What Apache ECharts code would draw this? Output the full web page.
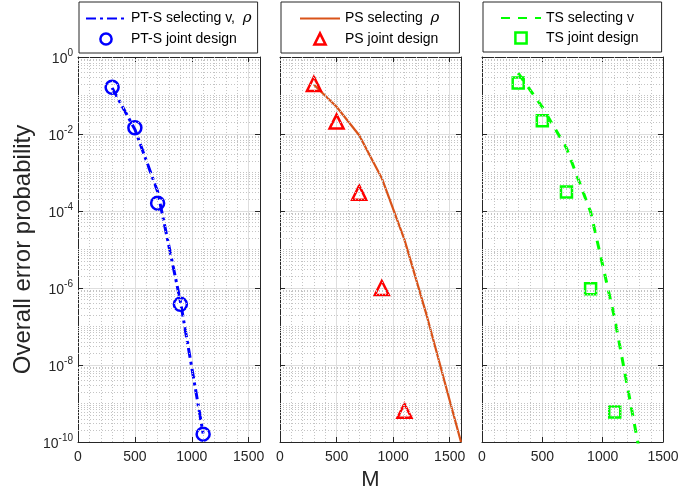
<!DOCTYPE html>
<html>
<head>
<meta charset="utf-8">
<script src="https://cdn.jsdelivr.net/npm/echarts@6/dist/echarts.min.js"></script>
<style>
    html, body { margin: 0; padding: 0; background: #fff; }
    #main { width: 678px; height: 491px; }
</style>
</head>
<body>
<div id="main"></div>
<script>
// M values of the joint-design markers
const mValues = [300, 500, 700, 900, 1100];

// PT-S
const ptsLineM = [300, 500, 700, 900, 1100];
const ptsLine = [0.158, 0.0132, 3.2e-4, 4.5e-7, 1.66e-10];
const ptsJoint = [0.163, 0.0146, 1.6e-4, 3.8e-7, 1.6e-10];

// PS
const psLineM = [300, 500, 700, 900, 1100, 1300, 1500, 1600];
const psLine = [0.19, 0.051, 0.0093, 7.1e-4, 1.8e-5, 1.8e-7, 1.2e-9, 1e-10];
const psJoint = [0.2, 0.021, 3e-4, 1e-6, 6.5e-10];

// TS
const tsLineM = [300, 500, 700, 900, 1100, 1300];
const tsLine = [0.38, 0.05, 4.3e-3, 9.5e-5, 1.6e-7, 7e-11];
const tsJoint = [0.21, 0.022, 3.1e-4, 9.6e-7, 6e-10];

const seriesNames = [
    ['PT-S selecting v, ρ', 'PT-S joint design'],
    ['PS selecting ρ', 'PS joint design'],
    ['TS selecting v', 'TS joint design']
];

const panels = [
    { left: 78, width: 182, xMax: 1600 },
    { left: 280, width: 181, xMax: 1600 },
    { left: 482, width: 181, xMax: 1500 }
];
const TOP = 57, HEIGHT = 385;
const AX = '#262626';

const zip = (xs, ys) => xs.map((x, i) => [x, ys[i]]);

// dotted minor grid (log minors + odd decades, and every 100 on x)
const minorY = [];
for (let k = -10; k < 0; k++) {
    for (let m = 1; m <= 9; m++) {
        if (m === 1 && k % 2 === 0) continue;
        minorY.push(m * Math.pow(10, k));
    }
}
const minorLines = (xMax) => {
    const d = minorY.map(v => ({ yAxis: v }));
    for (let v = 100; v < xMax; v += 100) {
        if (v % 500 !== 0) d.push({ xAxis: v });
    }
    return {
        silent: true,
        symbol: 'none',
        precision: 14,
        label: { show: false },
        lineStyle: { color: '#c4c4c4', type: [1, 2], width: 1 },
        data: d
    };
};

const supLabel = (value) => {
    const e = Math.round(Math.log10(value));
    if (e % 2 !== 0) return '';
    return '{b|10}{s|' + e + '}';
};

const grids = [], xAxes = [], yAxes = [];
panels.forEach((p, i) => {
    grids.push({ left: p.left, width: p.width, top: TOP, height: HEIGHT, containLabel: false, outerBoundsMode: 'none' });
    const xBase = {
        type: 'value', gridIndex: i, min: 0, max: p.xMax, interval: 500,
        axisLine: { show: true, onZero: false, lineStyle: { color: AX, width: 1 } },
        axisTick: { show: true, inside: true, length: 5, lineStyle: { color: AX } }
    };
    xAxes.push(Object.assign({}, xBase, {
        position: 'bottom',
        name: i === 1 ? 'M' : '',
        nameLocation: 'middle',
        nameGap: 27,
        nameTextStyle: { fontSize: 22, color: AX, fontFamily: 'Liberation Sans' },
        axisLabel: {
            fontSize: 14, color: AX, margin: 8, fontFamily: 'Liberation Sans',
            showMaxLabel: p.xMax === 1500,
            formatter: (v) => String(v)
        },
        splitLine: { show: true, lineStyle: { color: '#dedede', width: 1 } }
    }));
    xAxes.push(Object.assign({}, xBase, {
        position: 'top',
        axisLabel: { show: false },
        splitLine: { show: false }
    }));
    const yBase = {
        type: 'log', logBase: 10, gridIndex: i, min: 1e-10, max: 1, interval: 2,
        axisLine: { show: true, onZero: false, lineStyle: { color: AX, width: 1 } },
        axisTick: { show: true, inside: true, length: 5, lineStyle: { color: AX } }
    };
    yAxes.push(Object.assign({}, yBase, {
        position: 'left',
        name: i === 0 ? 'Overall error probability' : '',
        nameLocation: 'middle',
        nameGap: 43,
        nameTextStyle: { fontSize: 24, color: AX, fontFamily: 'Liberation Sans' },
        axisLabel: {
            show: i === 0,
            margin: 5,
            color: AX,
            formatter: supLabel,
            rich: {
                b: { fontSize: 14, color: AX, fontFamily: 'Liberation Sans', verticalAlign: 'bottom' },
                s: { fontSize: 10, color: AX, fontFamily: 'Liberation Sans', verticalAlign: 'bottom', padding: [0, 0, 8, 0] }
            }
        },
        splitLine: { show: true, lineStyle: { color: '#dedede', width: 1 } }
    }));
    yAxes.push(Object.assign({}, yBase, {
        position: 'right',
        axisLabel: { show: false },
        splitLine: { show: false }
    }));
});

const lineData = [zip(ptsLineM, ptsLine), zip(psLineM, psLine), zip(tsLineM, tsLine)];
const jointData = [zip(mValues, ptsJoint), zip(mValues, psJoint), zip(mValues, tsJoint)];
const lineStyles = [
    { color: '#0000ff', width: 3, type: [10, 4, 3, 4] },
    { color: '#d95319', width: 2.2, type: 'solid' },
    { color: '#00ff00', width: 3, type: [9, 8] }
];
const markers = [
    { symbol: 'circle', size: 13, color: '#0000ff' },
    { symbol: 'triangle', size: 14, color: '#ff0000' },
    { symbol: 'rect', size: 11, color: '#00ff00' }
];

const series = [];
panels.forEach((p, i) => {
    series.push({
        name: seriesNames[i][0],
        type: 'line',
        xAxisIndex: i * 2, yAxisIndex: i * 2,
        data: lineData[i],
        symbol: 'none',
        lineStyle: lineStyles[i],
        itemStyle: { color: lineStyles[i].color },
        markLine: minorLines(p.xMax),
        z: 3
    });
    // markers only: a line series with an invisible line, so the legend icon keeps its shape
    series.push({
        name: seriesNames[i][1],
        type: 'line',
        xAxisIndex: i * 2, yAxisIndex: i * 2,
        data: jointData[i],
        symbol: markers[i].symbol,
        symbolSize: markers[i].size,
        showSymbol: true,
        showAllSymbol: true,
        lineStyle: { opacity: 0, width: 0 },
        itemStyle: { color: 'rgba(0,0,0,0)', borderColor: markers[i].color, borderWidth: 2.5, opacity: 1 },
        z: 4
    });
});

const legendPads = [[9, 6, 7, 6], [9, 20, 7, 18], [9, 23, 7, 17]];
const legends = panels.map((p, i) => ({
    data: [
        {
            name: seriesNames[i][0],
            itemStyle: { opacity: 0 }
        },
        {
            name: seriesNames[i][1],
            lineStyle: { opacity: 0 },
            itemStyle: { color: 'rgba(0,0,0,0)', borderColor: markers[i].color, borderWidth: 2.5, opacity: 1 }
        }
    ],
    orient: 'vertical',
    left: p.left + 1,
    top: 2,
    padding: legendPads[i],
    itemGap: 6,
    itemWidth: 40,
    itemHeight: 14,
    selectedMode: false,
    backgroundColor: '#fff',
    borderColor: AX,
    borderWidth: 1,
    borderRadius: 0,
    formatter: (name) => {
        if (name.endsWith('ρ')) {
            return '{t|' + name.slice(0, -1) + ' }{r|ρ}';
        }
        return name;
    },
    textStyle: {
        fontSize: 14, color: '#000', fontFamily: 'Liberation Sans',
        rich: {
            t: { fontSize: 14, color: '#000', fontFamily: 'Liberation Sans' },
            r: { fontSize: 15, color: '#000', fontStyle: 'italic', fontFamily: 'DejaVu Serif' }
        }
    }
}));

const chart = echarts.init(document.getElementById('main'));
chart.setOption({
    animation: false,
    backgroundColor: '#fff',
    grid: grids,
    xAxis: xAxes,
    yAxis: yAxes,
    legend: legends,
    series: series
});
</script>
</body>
</html>
